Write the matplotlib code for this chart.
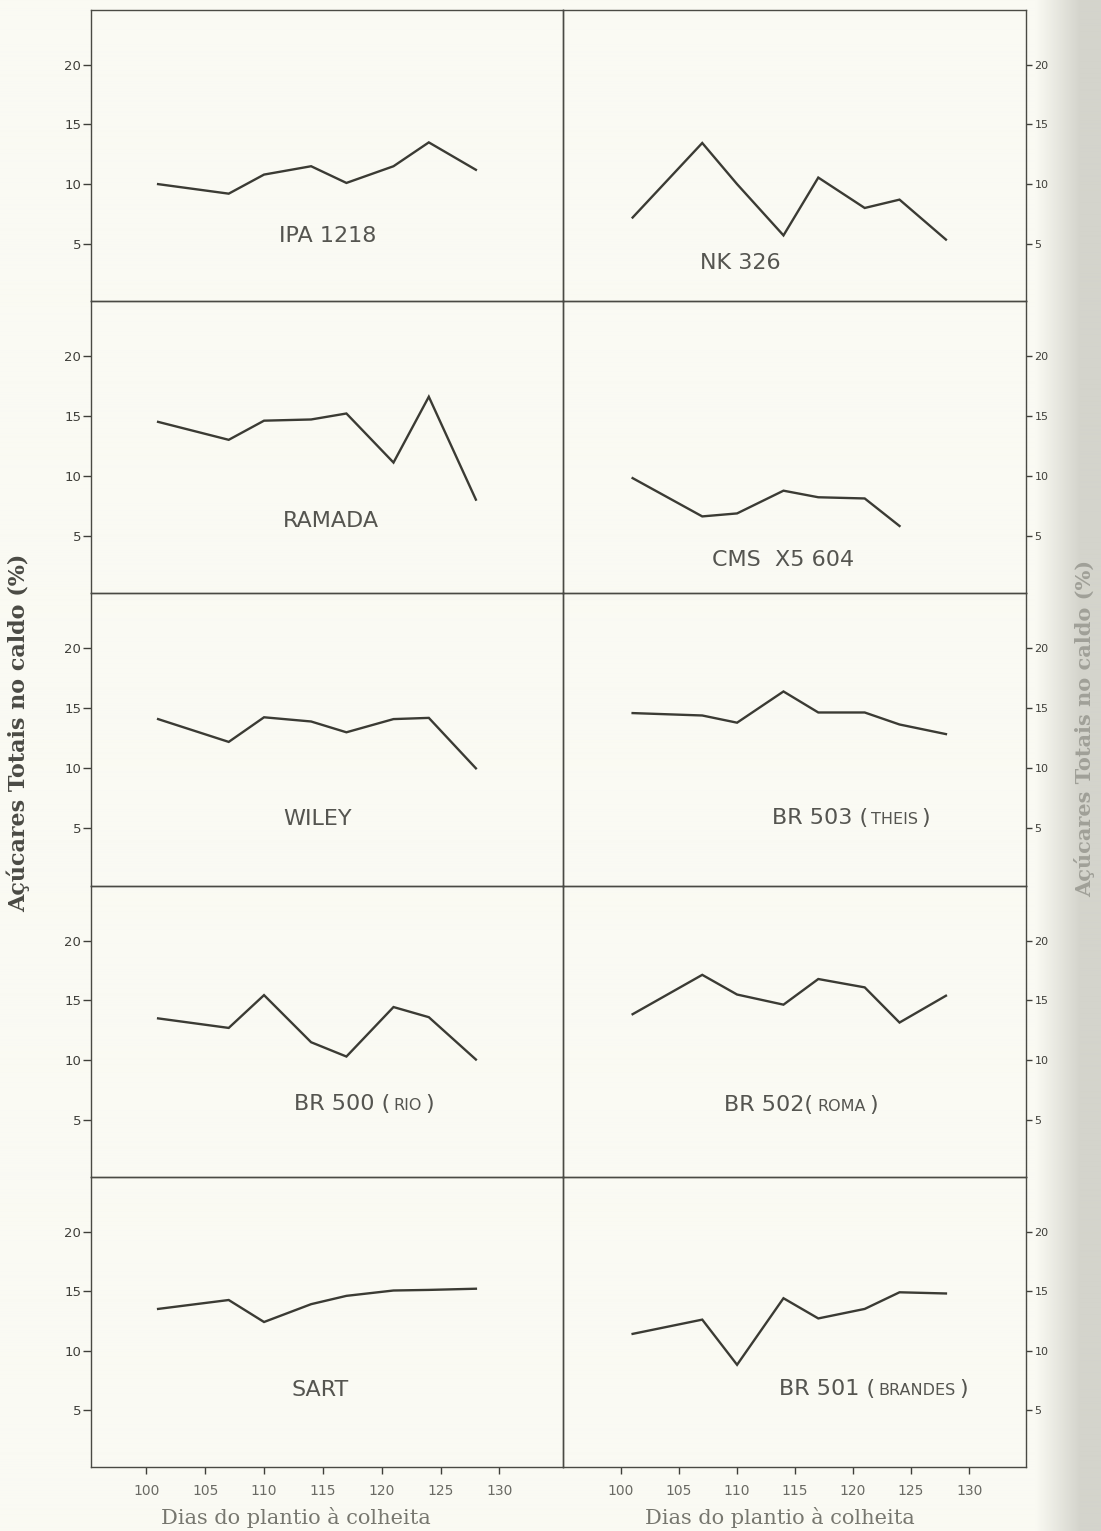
import numpy as np
import matplotlib
matplotlib.use("Agg")
import matplotlib.pyplot as plt
from matplotlib.transforms import Bbox

# ---------------- data ----------------
days = [101, 107, 110, 114, 117, 121, 124, 128]
days_cms = [101, 107, 110, 114, 117, 121, 124]

ipa1218 = [10.0, 9.2, 10.8, 11.5, 10.1, 11.5, 13.5, 11.2]
ramada = [14.5, 13.0, 14.6, 14.7, 15.2, 11.1, 16.6, 8.0]
wiley = [14.1, 12.2, 14.25, 13.9, 13.0, 14.1, 14.2, 10.0]
br500 = [13.5, 12.7, 15.45, 11.5, 10.3, 14.45, 13.6, 10.05]
sart = [13.5, 14.25, 12.4, 13.9, 14.6, 15.05, 15.1, 15.2]

nk326 = [7.2, 13.45, 10.0, 5.7, 10.55, 8.0, 8.7, 5.35]
cms_x5_604 = [9.8, 6.6, 6.85, 8.75, 8.2, 8.1, 5.8]
br503 = [14.6, 14.4, 13.8, 16.4, 14.65, 14.65, 13.65, 12.85]
br502 = [13.85, 17.15, 15.5, 14.65, 16.8, 16.1, 13.15, 15.4]
br501 = [11.4, 12.6, 8.8, 14.4, 12.7, 13.5, 14.9, 14.8]

# label segments: (text, small?)
labels_left = [
    [("IPA 1218", False)],
    [("RAMADA", False)],
    [("WILEY", False)],
    [("BR 500 (", False), ("RIO", True), (")", False)],
    [("SART", False)],
]
labels_right = [
    [("NK 326", False)],
    [("CMS  X5 604", False)],
    [("BR 503 (", False), ("THEIS", True), (")", False)],
    [("BR 502(", False), ("ROMA", True), (")", False)],
    [("BR 501 (", False), ("BRANDES", True), (")", False)],
]
series_left = [(days, ipa1218), (days, ramada), (days, wiley), (days, br500), (days, sart)]
series_right = [(days, nk326), (days_cms, cms_x5_604), (days, br503), (days, br502), (days, br501)]

yticks = [5, 10, 15, 20]
xticks = [100, 105, 110, 115, 120, 125, 130]
ylabel = "Açúcares Totais no caldo (%)"
xlabel = "Dias do plantio à colheita"

# label centres in figure pixels (x, y from top)
centre_left = [(328, 236), (331, 521), (318, 819), (364, 1104), (320, 1390)]
centre_right = [(740, 263), (783, 560), (851, 818), (801, 1105), (873, 1389)]

# ---------------- layout ----------------
W, H = 1101, 1531
fig = plt.figure(figsize=(W / 100, H / 100), dpi=100)
paper = "#fafaf3"
fig.patch.set_facecolor(paper)

# background gradient (scanner shadow on the right edge)
bg = fig.add_axes([0, 0, 1, 1], zorder=-10)
xs = np.arange(W)
shade = np.clip((xs - 1035) / 45.0, 0, 1)
c0 = np.array([250, 250, 243]) / 255.0
c1 = np.array([212, 212, 204]) / 255.0
row = c0[None, :] * (1 - shade[:, None]) + c1[None, :] * shade[:, None]
img = np.repeat(row[None, :, :], 10, axis=0)
bg.imshow(img, aspect="auto", extent=[0, 1, 0, 1], interpolation="bilinear")
bg.set_axis_off()

rows = [(10, 301), (301, 593), (593, 886), (886, 1177), (1177, 1467)]
cols = [(91, 563), (563, 1026)]
xlims = [(95.3, 135.4), (95.0, 134.9)]

line_col = "#3b3b34"
spine_col = "#4a4a44"
text_col = "#555550"
tick_col = "#3f3f3a"

pending = []


def add_label(ax, segs, centre):
    big, small = 16, 11.5
    prev = None
    arts = []
    for txt, is_small in segs:
        size = small if is_small else big
        if prev is None:
            prev = ax.text(0.5, 0.2, txt, transform=ax.transAxes, fontsize=size,
                           color=text_col, family="DejaVu Sans", ha="left", va="bottom")
        else:
            dy = 0.23 * (prev_size - size)
            prev = ax.annotate(txt, xy=(1, 0), xycoords=prev, xytext=(2.5, dy),
                               textcoords="offset points", fontsize=size, color=text_col,
                               family="DejaVu Sans", ha="left", va="bottom")
        prev_size = size
        arts.append(prev)
    pending.append((ax, arts, centre))


for ci, (col, series, labels, centres) in enumerate(
        [(cols[0], series_left, labels_left, centre_left),
         (cols[1], series_right, labels_right, centre_right)]):
    x0, x1 = col
    for ri, (y0, y1) in enumerate(rows):
        ax = fig.add_axes([x0 / W, 1 - y1 / H, (x1 - x0) / W, (y1 - y0) / H])
        ax.set_facecolor("none")
        xd, yd = series[ri]
        ax.plot(xd, yd, color=line_col, lw=1.7, solid_joinstyle="miter")
        ax.set_xlim(*xlims[ci])
        ax.set_ylim(0.2, 24.6)
        for s in ax.spines.values():
            s.set_color(spine_col)
            s.set_linewidth(1.0)
        ax.set_yticks(yticks)
        ax.set_yticklabels([str(v) for v in yticks])
        if ci == 0:
            ax.tick_params(axis="y", which="both", left=True, right=False, labelleft=True,
                           labelright=False, direction="out", length=6, width=1.0,
                           color=tick_col, labelsize=9.5, labelcolor=tick_col, pad=1)
        else:
            ax.tick_params(axis="y", which="both", left=False, right=True, labelleft=False,
                           labelright=True, direction="out", length=4, width=1.0,
                           color=tick_col, labelsize=8, labelcolor=tick_col, pad=2)
        if ri == len(rows) - 1:
            ax.set_xticks(xticks)
            ax.set_xticklabels([str(v) for v in xticks])
            ax.tick_params(axis="x", direction="out", length=5, width=1.0, color=tick_col,
                           labelsize=10, labelcolor="#6a6a64", pad=7)
        else:
            ax.set_xticks([])
        add_label(ax, labels[ri], centres[ri])

# axis titles
fig.text(296 / W, 1 - 1517 / H, xlabel, ha="center", va="center",
         family="DejaVu Serif", fontsize=15, color="#77776f")
fig.text(780 / W, 1 - 1517 / H, xlabel, ha="center", va="center",
         family="DejaVu Serif", fontsize=15, color="#77776f")
fig.text(18 / W, 1 - 733 / H, ylabel, rotation=90, ha="center", va="center",
         family="DejaVu Serif", fontweight="bold", fontsize=16, color="#4a4a44")
fig.text(1085 / W, 1 - 728 / H, ylabel, rotation=90, ha="center", va="center",
         family="DejaVu Serif", fontweight="bold", fontsize=15, color="#a0a098")

# centre the composite labels on their targets
fig.canvas.draw()
renderer = fig.canvas.get_renderer()
for ax, arts, (tx, ty) in pending:
    bb = Bbox.union([a.get_window_extent(renderer) for a in arts])
    dx = tx - (bb.x0 + bb.x1) / 2
    dy = (H - ty) - (bb.y0 + bb.y1) / 2
    axbb = ax.get_window_extent(renderer)
    px, py = arts[0].get_position()
    arts[0].set_position((px + dx / axbb.width, py + dy / axbb.height))

fig.savefig("out.png", dpi=100, facecolor=fig.get_facecolor())
